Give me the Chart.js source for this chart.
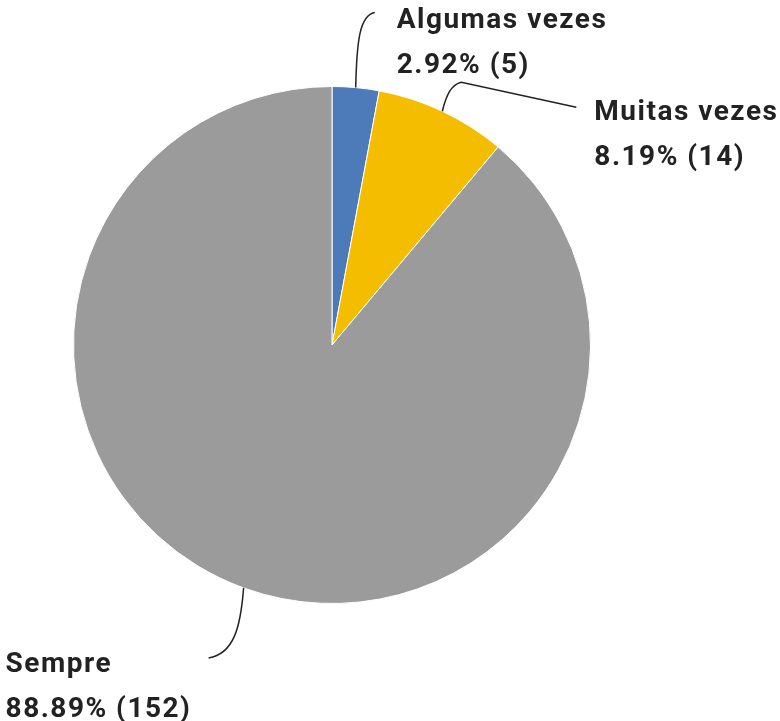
<!DOCTYPE html>
<html>
<head>
<meta charset="utf-8">
<script src="https://cdn.jsdelivr.net/npm/chart.js@4"></script>
<style>
html,body{margin:0;padding:0;background:#fff;}
#wrap{width:780px;height:721px;position:relative;}
</style>
</head>
<body>
<div id="wrap"><canvas id="c" width="780" height="721"></canvas></div>
<script>
const categories = ["Algumas vezes", "Muitas vezes", "Sempre"];
const counts = [5, 14, 152];
const percentLabels = ["2.92%", "8.19%", "88.89%"];
const colors = ["#4d7ab8", "#f5bd00", "#9b9b9b"];

// label leader geometry relative to the arc mid-point (style only)
const leaderStyle = [
  {path: [[1,-47],[4,-72],[19,-75]], line: null, text: [41,-60]},
  {path: [[4,-16],[9,-27],[19,-29]], line: [134,-4], text: [152,9]},
  {path: [[-3,40],[-10,66],[-35,70]], line: null, text: [-238,84]}
];

const labelPlugin = {
  id: 'leaderLabels',
  afterDatasetsDraw(chart) {
    const ctx = chart.ctx;
    const meta = chart.getDatasetMeta(0);
    ctx.save();
    meta.data.forEach((arc, i) => {
      const p = arc.getProps(['x','y','startAngle','endAngle','outerRadius'], true);
      const mid = (p.startAngle + p.endAngle) / 2;
      const ax = p.x + Math.cos(mid) * p.outerRadius;
      const ay = p.y + Math.sin(mid) * p.outerRadius;
      const s = leaderStyle[i];
      ctx.strokeStyle = '#222';
      ctx.lineWidth = 1.5;
      ctx.beginPath();
      ctx.moveTo(ax, ay);
      ctx.bezierCurveTo(ax + s.path[0][0], ay + s.path[0][1], ax + s.path[1][0], ay + s.path[1][1], ax + s.path[2][0], ay + s.path[2][1]);
      if (s.line) ctx.lineTo(ax + s.line[0], ay + s.line[1]);
      ctx.stroke();
      ctx.fillStyle = '#222';
      ctx.font = 'bold 28px Roboto';
      ctx.letterSpacing = '1.5px';
      ctx.textAlign = 'left';
      ctx.textBaseline = 'alphabetic';
      const tx = ax + s.text[0], ty = ay + s.text[1];
      ctx.fillText(categories[i], tx, ty);
      ctx.fillText(percentLabels[i] + ' (' + counts[i] + ')', tx, ty + 45);
    });
    ctx.restore();
  }
};

new Chart(document.getElementById('c'), {
  type: 'pie',
  data: {
    labels: categories,
    datasets: [{
      data: counts,
      backgroundColor: colors,
      borderColor: '#ffffff',
      borderWidth: 1
    }]
  },
  options: {
    responsive: false,
    animation: false,
    layout: {padding: {left: 73, right: 189, top: 86, bottom: 117}},
    plugins: {legend: {display: false}, tooltip: {enabled: false}}
  },
  plugins: [labelPlugin]
});
</script>
</body>
</html>
